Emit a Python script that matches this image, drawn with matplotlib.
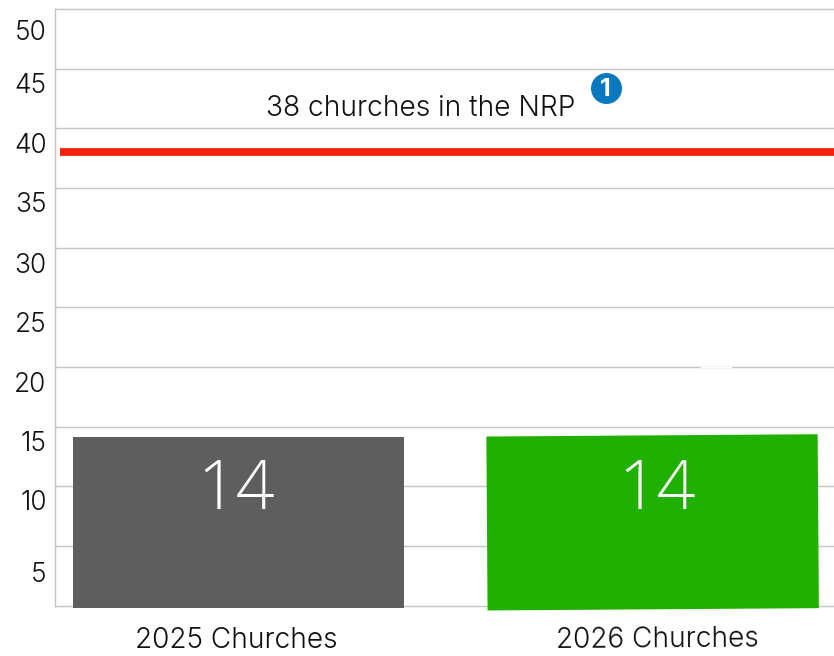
import matplotlib
matplotlib.use("Agg")
import matplotlib.pyplot as plt
from matplotlib.transforms import Affine2D, ScaledTranslation

plt.rcParams['font.family'] = ['Inter', 'DejaVu Sans']
plt.rcParams['font.weight'] = 300

categories = ["2025 Churches", "2026 Churches"]
values = [14, 14]
bar_colors = ["#5e5e5e", "#20b000"]
yticks = [0, 5, 10, 15, 20, 25, 30, 35, 40, 45, 50]
ytick_labels = ["", "5", "10", "15", "20", "25", "30", "35", "40", "45", "50"]
target_value = 38
target_label = "38 churches in the NRP"

W, H = 834, 656
DPI = 100
L, R, T, B = 55, 834, 9, 605.5
TXT = "#111111"
GRID = "#c6c6c6"

fig = plt.figure(figsize=(W / DPI, H / DPI), dpi=DPI, facecolor="white")
ax = fig.add_axes([L / W, (H - B) / H, (R - L) / W, (B - T) / H])
ax.set_xlim(-0.443, 1.438)
ax.set_ylim(0, 50)
ax.set_axisbelow(True)
ax.xaxis.grid(False)
for s in ["top", "right", "bottom"]:
    ax.spines[s].set_visible(False)
ax.spines["left"].set_color(GRID)
ax.spines["left"].set_linewidth(1.05)

def shift(dx, dy):
    return ScaledTranslation(dx / DPI, -dy / DPI, fig.dpi_scale_trans)

# bars
grey = ax.bar(0, values[0] + 0.35, bottom=-0.22, width=0.80, color=bar_colors[0], zorder=3, clip_on=False)[0]
green = ax.bar(1, values[1] + 0.58, bottom=-0.32, width=0.80, color=bar_colors[1], zorder=3, clip_on=False)[0]
cx, cy = ax.transData.transform((1, 6.97))
green.set_transform(ax.transData + Affine2D().rotate_deg_around(cx, cy, 0.4))

# value labels
for i, (v, dx) in enumerate(zip(values, [-2.5, 5])):
    ax.annotate(str(v), (i, v), xytext=(dx * 72 / DPI, -(483 - (B - v * (B - T) / 50)) * 72 / DPI),
                textcoords="offset points", ha="center", va="center_baseline",
                color="white", fontsize=49, family="Open Sans", fontweight=300, zorder=4)

# reference line
ax.hlines(target_value, -0.431, 1.438, color="#f0220c", lw=5.6, zorder=3)
ax.text((420.5 - L) / (R - L), (B - 109) / (B - T), target_label, transform=ax.transAxes,
        ha="center", va="center", fontsize=20.3, color=TXT)

# marker badge
bx, by = (605.5 - L) / (R - L), (B - 87.5) / (B - T)
ax.scatter([bx], [by], s=(31 * 72 / DPI) ** 2, color="#0a78be", transform=ax.transAxes,
           zorder=5, clip_on=False, linewidths=0)
ax.text(bx, by, "1", transform=ax.transAxes, ha="center", va="center_baseline",
        color="white", fontsize=18, fontweight="bold", zorder=6)

# ticks
ax.set_yticks(yticks)
ax.set_yticklabels(ytick_labels, fontsize=19, color=TXT)
ax.tick_params(axis="y", length=0, pad=6)
ax.tick_params(axis="x", length=0)
ax.yaxis.grid(True, color=GRID, lw=1.05)
for gl in ax.get_ygridlines():
    gl.set_clip_on(False)
offsets = {"50": 21, "45": 14.5, "40": 15, "35": 14, "30": 15.5, "25": 15,
           "20": 15, "15": 14.5, "10": 14, "5": 26}
for lab in ax.get_yticklabels():
    t = lab.get_text()
    if t in offsets:
        lab.set_transform(lab.get_transform() + shift(0, offsets[t]))

# white smudge across the 20 gridline
ax.plot([(701 - L) / (R - L), (731 - L) / (R - L)], [(B - 366.5) / (B - T)] * 2,
        transform=ax.transAxes, color="white", lw=1.0, zorder=2)

ax.set_xticks([0, 1])
ax.set_xticklabels(categories, fontsize=20.2, color=TXT)
for lab, dx, dy, rot in zip(ax.get_xticklabels(), [-2.5, 4.5], [17, 16], [0, 0.4]):
    lab.set_transform(lab.get_transform() + shift(dx, dy))
    lab.set_rotation(rot)
    lab.set_rotation_mode("anchor")

fig.savefig("out.png", dpi=DPI, facecolor="white")
